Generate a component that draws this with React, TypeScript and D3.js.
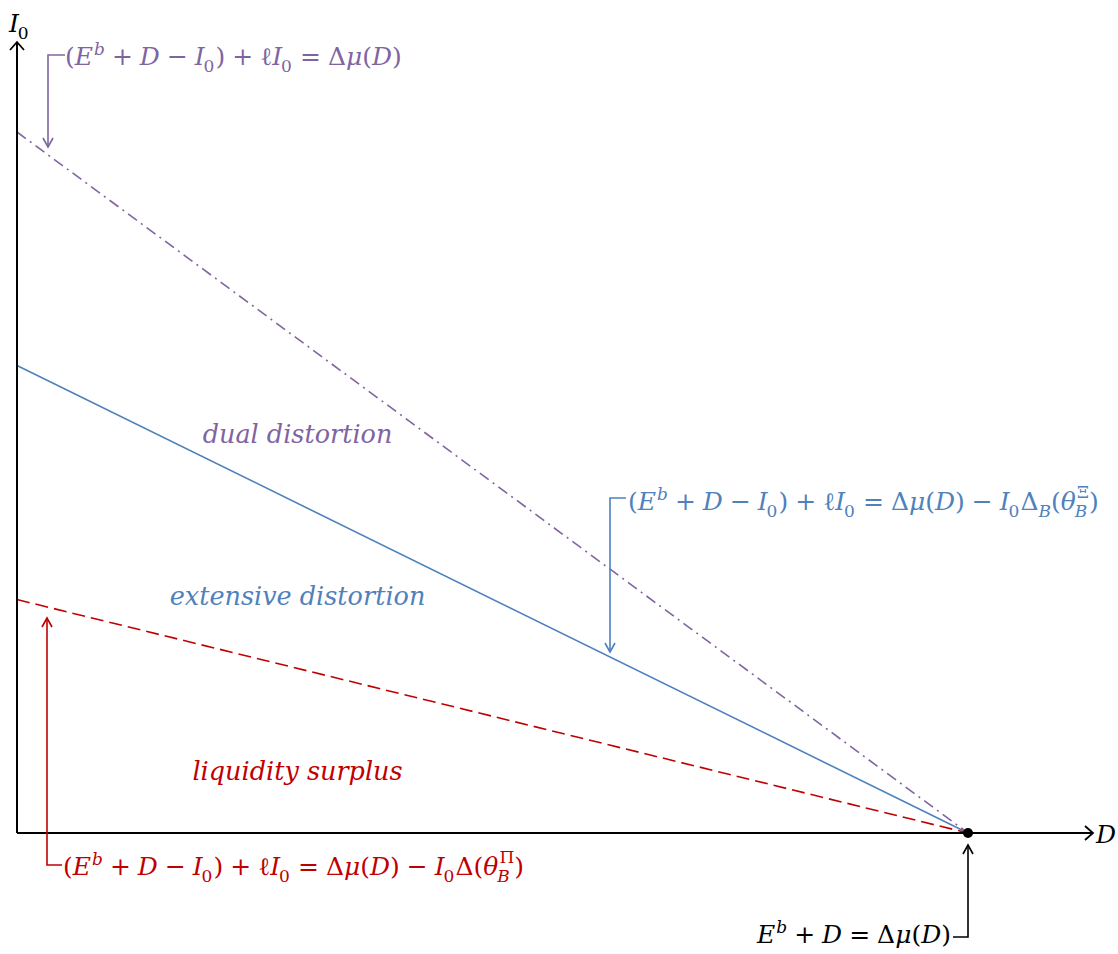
import React, { useEffect, useRef } from "react";
import * as d3 from "d3";

// intercepts on the I0 axis, every line meets the D axis at the same point
const dStar = 100;
const lineNames = ["dual", "extensive", "surplus"];
const lineIntercepts = [100, 66.7, 33.3];
const lineColors = ["#8064A2", "#4F81BD", "#C00000"];
const lineDashes = ["11 5 2 5", null, "13 6"];

const regionLabels = ["dual distortion", "extensive distortion", "liquidity surplus"];
const regionLabelPos = [
  [29.5, 55.6],
  [29.5, 32.5],
  [29.5, 7.6],
];

type Tok = { t: string; i?: boolean; op?: boolean; sup?: string; sub?: string; supI?: boolean; subI?: boolean };

const lhs: Tok[] = [
  { t: "(" },
  { t: "E", i: true, sup: "b", supI: true },
  { t: "+", op: true },
  { t: "D", i: true },
  { t: "−", op: true },
  { t: "I", i: true, sub: "0" },
  { t: ")" },
  { t: "+", op: true },
  { t: "ℓ" },
  { t: "I", i: true, sub: "0" },
  { t: "=", op: true },
  { t: "Δ" },
  { t: "μ", i: true },
  { t: "(" },
  { t: "D", i: true },
  { t: ")" },
];
const eqPurple: Tok[] = lhs;
const eqBlue: Tok[] = [
  ...lhs,
  { t: "−", op: true },
  { t: "I", i: true, sub: "0" },
  { t: "Δ", sub: "B", subI: true },
  { t: "(" },
  { t: "θ", i: true, sub: "B", subI: true, sup: "Ξ" },
  { t: ")" },
];
const eqRed: Tok[] = [
  ...lhs,
  { t: "−", op: true },
  { t: "I", i: true, sub: "0" },
  { t: "Δ" },
  { t: "(" },
  { t: "θ", i: true, sub: "B", subI: true, sup: "Π" },
  { t: ")" },
];
const eqBlack: Tok[] = [
  { t: "E", i: true, sup: "b", supI: true },
  { t: "+", op: true },
  { t: "D", i: true },
  { t: "=", op: true },
  { t: "Δ" },
  { t: "μ", i: true },
  { t: "(" },
  { t: "D", i: true },
  { t: ")" },
];

const FONT = "'DejaVu Serif', serif";

function mathText(g: any, toks: Tok[], x0: number, y: number, size: number, color: string, anchorEnd = false) {
  const grp = g.append("g");
  let x = 0;
  const put = (s: string, xx: number, yy: number, fs: number, it: boolean) => {
    const t = grp
      .append("text")
      .attr("x", xx)
      .attr("y", yy)
      .attr("font-family", FONT)
      .attr("font-size", fs)
      .attr("font-style", it ? "italic" : "normal")
      .attr("fill", color)
      .text(s);
    return (t.node() as SVGTextElement).getComputedTextLength();
  };
  const gap = size * 0.28;
  toks.forEach((tk) => {
    if (tk.op) x += gap;
    const w = put(tk.t, x, 0, size, !!tk.i);
    x += w;
    let extra = 0;
    const ss = size * 0.68;
    if (tk.sup) extra = Math.max(extra, put(tk.sup, x + size * 0.04, -size * (tk.sub ? 0.5 : 0.42), ss, !!tk.supI) + size * 0.04);
    if (tk.sub) extra = Math.max(extra, put(tk.sub, x - (tk.i ? size * 0.05 : 0), size * 0.28, ss, !!tk.subI));
    x += extra;
    if (tk.op) x += gap;
  });
  const tx = anchorEnd ? x0 - x : x0;
  grp.attr("transform", `translate(${tx},${y})`);
  return x;
}

const App = () => {
  const svgRef = useRef<SVGSVGElement>(null);

  useEffect(() => {
    document.body.style.margin = "0";
    const svg = d3.select(svgRef.current);
    svg.selectAll("*").remove();

    const x = d3.scaleLinear().domain([0, dStar]).range([17, 968]);
    const y = d3.scaleLinear().domain([0, 100]).range([833, 132]);
    const xMax = x.invert(1093);
    const yMax = y.invert(42);

    const g = svg.append("g");

    // lines
    const line = d3
      .line<[number, number]>()
      .x((d) => x(d[0]))
      .y((d) => y(d[1]));
    lineIntercepts.forEach((b, i) => {
      g.append("path")
        .attr("d", line([[0, b], [dStar, 0]]))
        .attr("fill", "none")
        .attr("stroke", lineColors[i])
        .attr("stroke-width", 1.6)
        .attr("stroke-dasharray", lineDashes[i])
        .attr("class", lineNames[i]);
    });

    // axes
    const ax = g.append("g").attr("stroke", "#000").attr("fill", "none").attr("stroke-width", 2);
    ax.append("path").attr("d", `M${x(0)},${y(0)}H${x(xMax)}`);
    ax.append("path").attr("d", `M${x(0)},${y(0)}V${y(yMax)}`);
    ax.append("path").attr("d", `M${x(0) - 7},${y(yMax) + 8}L${x(0)},${y(yMax)}L${x(0) + 7},${y(yMax) + 8}`).attr("stroke-width", 1.8);
    ax.append("path").attr("d", `M${x(xMax) - 8},${y(0) - 7}L${x(xMax)},${y(0)}L${x(xMax) - 8},${y(0) + 7}`).attr("stroke-width", 1.8);

    // axis labels
    mathText(g, [{ t: "I", i: true, sub: "0" }], 9, 32, 25, "#000");
    mathText(g, [{ t: "D", i: true }], 1096, 843, 25, "#000");

    g.append("circle").attr("cx", x(dStar)).attr("cy", y(0)).attr("r", 5).attr("fill", "#000");

    // region labels
    regionLabels.forEach((s, i) => {
      g.append("text")
        .attr("x", x(regionLabelPos[i][0]))
        .attr("y", y(regionLabelPos[i][1]))
        .attr("text-anchor", "middle")
        .attr("font-family", FONT)
        .attr("font-style", "italic")
        .attr("font-size", 25.5)
        .attr("fill", lineColors[i])
        .text(s);
    });

    // annotation brackets with arrows
    const bracket = (pts: [number, number][], color: string, up: boolean) => {
      const p = d3.path();
      p.moveTo(pts[0][0], pts[0][1]);
      pts.slice(1).forEach((q) => p.lineTo(q[0], q[1]));
      g.append("path").attr("d", p.toString()).attr("fill", "none").attr("stroke", color).attr("stroke-width", 1.6);
      const [tx, ty] = pts[pts.length - 1];
      const s = up ? 1 : -1;
      g.append("path")
        .attr("d", `M${tx - 5},${ty + 9 * s}L${tx},${ty}L${tx + 5},${ty + 9 * s}`)
        .attr("fill", "none")
        .attr("stroke", color)
        .attr("stroke-width", 1.6);
    };
    bracket([[65, 55], [48, 55], [48, 147]], lineColors[0], false);
    bracket([[626, 498], [610, 498], [610, 652]], lineColors[1], false);
    bracket([[62, 865], [47, 865], [47, 618]], lineColors[2], true);
    bracket([[953, 937], [x(dStar), 937], [x(dStar), 845]], "#000", true);

    mathText(g, eqPurple, 65, 65, 25, lineColors[0]);
    mathText(g, eqBlue, 628, 510, 25, lineColors[1]);
    mathText(g, eqRed, 63, 875, 25, lineColors[2]);
    mathText(g, eqBlack, 951, 943, 25, "#000", true);
  }, []);

  return <svg ref={svgRef} width={1118} height={954} style={{ display: "block", background: "#fff" }} />;
};

export default App;
